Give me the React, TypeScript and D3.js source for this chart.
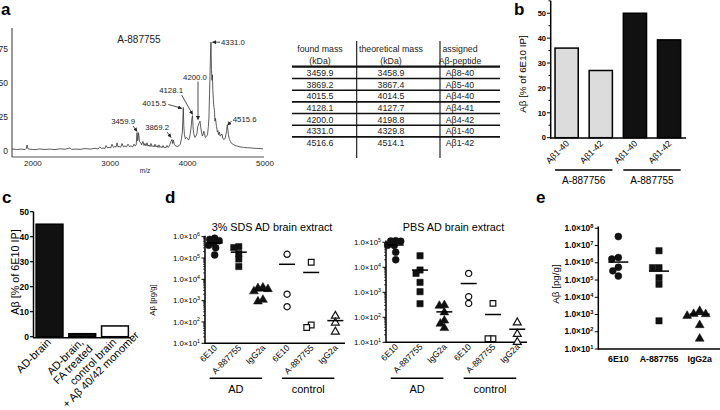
import * as d3 from 'd3'
import { useRef, useEffect } from 'react'

const W = 720, H = 410
const FONT = "'Liberation Sans', Arial, Helvetica, sans-serif"

// ---- a: MALDI spectrum [m/z, intensity] ----
const SPECTRUM: [number, number][] = [
  [1730, 1.5], [1790, 1.1], [1850, 1.4], [1900, 1.0], [1915, 2.0], [1924, 4.4], [1937, 1.5], [1990, 1.2],
  [2027, 1.0], [2090, 1.5], [2157, 1.1], [2220, 1.4], [2286, 1.0], [2350, 1.6], [2415, 1.3], [2480, 2.2],
  [2500, 1.2], [2544, 1.4], [2610, 1.2], [2674, 1.8], [2740, 1.4], [2803, 2.0], [2840, 1.5], [2867, 3.0],
  [2890, 1.8], [2906, 2.2], [2930, 1.8], [2945, 4.0], [2965, 2.2], [2984, 2.8], [3005, 2.2], [3023, 5.0],
  [3042, 2.6], [3061, 3.4], [3075, 2.8], [3087, 6.0], [3100, 3.0], [3113, 3.4], [3135, 2.8], [3152, 5.5],
  [3170, 3.0], [3190, 3.8], [3210, 3.0], [3229, 5.0], [3248, 3.2], [3268, 3.8], [3290, 3.0], [3307, 5.0],
  [3322, 3.6], [3335, 4.5], [3346, 13.5], [3353, 7.5], [3359, 9], [3365, 13.5], [3378, 7], [3391, 6.5],
  [3405, 4.5], [3423, 7], [3436, 4], [3449, 5.5], [3462, 3.8], [3475, 6], [3488, 3.5], [3501, 4.5],
  [3514, 3.2], [3527, 5.5], [3540, 3.2], [3553, 4], [3566, 3], [3578, 5], [3591, 3], [3604, 4],
  [3617, 2.6], [3630, 4.5], [3643, 2.6], [3656, 3.4], [3669, 2.4], [3682, 4], [3695, 2.4], [3707, 3],
  [3720, 2.4], [3733, 4], [3746, 2.6], [3759, 3.2], [3772, 5], [3785, 7], [3798, 8.5], [3806, 5.5],
  [3816, 8], [3830, 4.5], [3850, 3.6], [3875, 3.4], [3890, 4], [3905, 5], [3920, 9], [3932, 14],
  [3944, 32], [3951, 18], [3959, 12], [3970, 9], [3985, 10], [3998, 9.5], [4010, 8], [4022, 9],
  [4035, 13], [4044, 17], [4055, 24], [4063, 26], [4072, 16], [4082, 12], [4095, 10], [4108, 11],
  [4121, 13], [4131, 18], [4140, 19], [4150, 21], [4160, 22], [4170, 17], [4179, 14], [4190, 11],
  [4199, 12], [4210, 14.5], [4218, 13], [4228, 10], [4240, 10.5], [4257, 12], [4268, 18], [4276, 25],
  [4283, 42], [4289, 55], [4296, 72], [4302, 80], [4308, 60], [4315, 52], [4320, 56], [4326, 45],
  [4334, 36], [4340, 32], [4347, 30], [4353, 22], [4360, 24], [4373, 18], [4385, 14], [4392, 15],
  [4400, 12], [4411, 14], [4420, 11], [4431, 11.5], [4444, 12.5], [4456, 9], [4469, 8.5], [4482, 9],
  [4495, 12], [4503, 15], [4512, 19], [4520, 16], [4527, 12], [4540, 8.5], [4553, 7], [4570, 5.5],
  [4591, 4.8], [4615, 4], [4642, 3.6], [4680, 3], [4720, 2.7], [4770, 2.4], [4810, 2.3], [4860, 2.0],
  [4910, 1.9], [4974, 1.6],
]
const SPEC_X_TICKS = [2000, 3000, 4000, 5000]
const SPEC_Y_TICKS = [0, 25, 50, 75]
const PEAK_LABELS = ['3459.9', '3869.2', '4015.5', '4128.1', '4200.0', '4331.0', '4515.6']
const PEAK_AT: [number, number][] = [[3359, 13.5], [3798, 8.5], [3944, 32], [4063, 26], [4160, 22], [4302, 80], [4512, 19]]

// ---- a: table ----
const TABLE_HEAD = [['found mass', '(kDa)'], ['theoretical mass', '(kDa)'], ['assigned', 'Aβ-peptide']]
const FOUND = ['3459.9', '3869.2', '4015.5', '4128.1', '4200.0', '4331.0', '4516.6']
const THEORETICAL = ['3458.9', '3867.4', '4014.5', '4127.7', '4198.8', '4329.8', '4514.1']
const PEPTIDE = ['Aβ8-40', 'Aβ5-40', 'Aβ4-40', 'Aβ4-41', 'Aβ4-42', 'Aβ1-40', 'Aβ1-42']

// ---- b ----
const B_LABELS = ['Aβ1-40', 'Aβ1-42', 'Aβ1-40', 'Aβ1-42']
const B_VALUES = [36, 27, 50, 39.3]
const B_GROUPS = ['A-887756', 'A-887755']

// ---- c ----
const C_LABELS = [['AD-brain'], ['AD-brain,', 'FA treated'], ['control brain', '+ Aβ 40/42 monomer']]
const C_VALUES = [45, 1.2, 4.3]

// ---- d ----
const D_CATS = ['6E10', 'A-887755', 'IgG2a', '6E10', 'A-887755', 'IgG2a']
const D_GROUPS = ['AD', 'control']
const D_SDS = [
  [8.5e5, 7.5e5, 6.5e5, 5e5, 4e5, 3e5, 1.4e5],
  [3.4e5, 3.1e5, 1.6e5, 9e4, 4e4],
  [4.5e3, 4.2e3, 3.8e3, 3.0e3, 1.2e3, 1.0e3],
  [1.5e5, 2.0e3, 5.2e2],
  [6.3e4, 7.2e1, 5.5e1],
  [2.1e2, 1.0e2, 3.8e1],
]
const D_PBS = [
  [1.15e5, 1.12e5, 1.1e5, 7.6e4, 7.4e4, 4e4, 2e4],
  [2.9e4, 7.8e3, 5.7e3, 2.5e3, 1.06e3, 3.5e2],
  [3.3e2, 3.1e2, 1.7e2, 8e1, 6e1, 4e1],
  [5.7e3, 6.7e2, 3.6e2],
  [3.6e2, 1.4e1, 1.4e1],
  [6.6e1, 2.3e1, 1.1e1],
]

// ---- e ----
const E_CATS = ['6E10', 'A-887755', 'IgG2a']
const E_VALUES = [
  [3.3e7, 2.0e6, 1.65e6, 5.5e5, 3.4e5, 1.7e5],
  [5.0e6, 5.2e5, 5.2e5, 1.37e5, 5.7e4, 4.3e2],
  [1.8e3, 1.2e3, 1.17e3, 9.3e2, 2.7e2, 4.4e1],
]

type Sel = d3.Selection<any, unknown, null, undefined>

function letter(svg: Sel, t: string, x: number, y: number) {
  svg.append('text').attr('x', x).attr('y', y).attr('font-size', 17).attr('font-weight', 'bold').text(t)
}

function logLabel(sel: Sel, v: number) {
  sel.append('tspan').text('1.0×10')
  sel.append('tspan').attr('dy', -3.2).attr('font-size', '0.68em').text(Math.round(Math.log10(v)))
}

// simple beeswarm: spread overlapping markers sideways
function swarm(ys: number[], d: number) {
  const placed: [number, number][] = []
  return ys.map((yy) => {
    let best = 0
    for (let k = 0; k < 80; k++) {
      const off = (k % 2 ? -1 : 1) * Math.ceil(k / 2) * 0.5
      if (placed.every(([px, py]) => Math.hypot(px - off, py - yy) >= d)) { best = off; break }
    }
    placed.push([best, yy])
    return best
  })
}

const SHAPES = [d3.symbolCircle, d3.symbolSquare, d3.symbolTriangle]
const SIZES = [38, 40, 34]

function drawA(svg: Sel) {
  const x = d3.scaleLinear().domain([1730, 5000]).range([12, 265])
  const y = d3.scaleLinear().domain([0, 90]).range([151, 28.6])
  const g = svg.append('g').attr('fill', '#222')

  g.append('line').attr('x1', 12).attr('x2', 12).attr('y1', 28).attr('y2', 157).attr('stroke', '#555').attr('stroke-width', 1.2)
  g.append('line').attr('x1', 12).attr('x2', 264).attr('y1', 157).attr('y2', 157).attr('stroke', '#555').attr('stroke-width', 1.2)
  SPEC_X_TICKS.forEach((t) => g.append('text').attr('x', x(t)).attr('y', 166).attr('text-anchor', 'middle').attr('font-size', 8).text(t))
  SPEC_Y_TICKS.forEach((t) => g.append('text').attr('x', 8).attr('y', y(t) + 3).attr('text-anchor', 'end').attr('font-size', 8.5).text(t))
  g.append('text').attr('x', 145).attr('y', 173).attr('text-anchor', 'middle').attr('font-size', 6.5).text('m/z')

  const line = d3.line<[number, number]>().x((d) => x(d[0])).y((d) => y(d[1]))
  g.append('path').datum(SPECTRUM).attr('fill', 'none').attr('stroke', '#333').attr('stroke-width', 0.8).attr('d', line)

  g.append('text').attr('x', 139).attr('y', 43).attr('text-anchor', 'middle').attr('font-size', 10).text('A-887755')

  const defs = svg.append('defs')
  defs.append('marker').attr('id', 'ah').attr('viewBox', '0 0 10 10').attr('refX', 9).attr('refY', 5)
    .attr('markerWidth', 4).attr('markerHeight', 4).attr('markerUnits', 'userSpaceOnUse').attr('orient', 'auto')
    .append('path').attr('d', 'M0,0L10,5L0,10z').attr('fill', '#222')

  const layout = [
    { lx: -3, ly: -8.6, a: 'end', t: [-5, -6.6], h: [-1, -1.2] },
    { lx: -3, ly: -9.4, a: 'end', t: [-5, -7.4], h: [-1, -2] },
    { lx: -17.3, ly: -1, a: 'end', t: [-15, -3], h: [-1.6, 0.8] },
    { lx: -9.5, ly: -23, a: 'end', t: [-10.8, -20.6], h: [0, -1.3] },
    { lx: -5, ly: -41.5, a: 'middle', t: [-2, -39.5], h: [-2, -1.5] },
    { lx: 10, ly: 2.8, a: 'start', t: [9, 0], h: [1.5, 0] },
    { lx: 5.5, ly: -3, a: 'start', t: [4.2, -4], h: [0.3, 0] },
  ]
  PEAK_LABELS.forEach((lab, i) => {
    const px = x(PEAK_AT[i][0]), py = y(PEAK_AT[i][1])
    const L = layout[i]
    g.append('text').attr('x', px + L.lx).attr('y', py + L.ly).attr('text-anchor', L.a).attr('font-size', 7.8).text(lab)
    g.append('line').attr('x1', px + L.t[0]).attr('y1', py + L.t[1]).attr('x2', px + L.h[0]).attr('y2', py + L.h[1])
      .attr('stroke', '#222').attr('stroke-width', 0.8).attr('marker-end', 'url(#ah)')
  })

  // table
  const cols = [320, 391, 460]
  const rowY = (i: number) => 72.7 + i * 11.67
  const t = svg.append('g').attr('fill', '#222').attr('font-size', 8.8).attr('text-anchor', 'middle')
  TABLE_HEAD.forEach((h, c) => {
    t.append('text').attr('x', cols[c]).attr('y', 52).text(h[0])
    t.append('text').attr('x', cols[c]).attr('y', 63.5).text(h[1])
  })
  ;[FOUND, THEORETICAL, PEPTIDE].forEach((col, c) => col.forEach((v, i) => {
    t.append('text').attr('x', cols[c]).attr('y', rowY(i) + 3.2).text(v)
  }))
  t.append('line').attr('x1', 292).attr('x2', 500).attr('y1', 66.7).attr('y2', 66.7).attr('stroke', '#111').attr('stroke-width', 2.2)
  d3.range(6).forEach((i) => {
    const yy = rowY(i) + 5.83
    t.append('line').attr('x1', 292).attr('x2', 500).attr('y1', yy).attr('y2', yy).attr('stroke', '#111').attr('stroke-width', 1.6)
  })
  ;[356.7, 440].forEach((xx) => t.append('line').attr('x1', xx).attr('x2', xx).attr('y1', 41).attr('y2', 158).attr('stroke', '#111').attr('stroke-width', 1.1))
}

function drawB(svg: Sel) {
  const x = d3.scaleBand<number>().domain(d3.range(4)).range([550, 685.7]).paddingInner(0.32).paddingOuter(0.147)
  const y = d3.scaleLinear().domain([0, 55]).range([137.7, 0.8])
  const g = svg.append('g')
  B_VALUES.forEach((v, i) => {
    g.append('rect').attr('x', x(i)!).attr('width', x.bandwidth()).attr('y', y(v)).attr('height', y(0) - y(v))
      .attr('fill', i < 2 ? '#dcdcdc' : '#111').attr('stroke', '#000').attr('stroke-width', 1.5)
  })
  g.append('line').attr('x1', 550.7).attr('x2', 550.7).attr('y1', 0.8).attr('y2', 138.5).attr('stroke', '#000').attr('stroke-width', 1.5)
  g.append('line').attr('x1', 550).attr('x2', 686).attr('y1', 138).attr('y2', 138).attr('stroke', '#000').attr('stroke-width', 1.5)
  d3.range(0, 56, 5).forEach((t) => {
    const major = t % 10 === 0
    g.append('line').attr('x1', major ? 547 : 548.5).attr('x2', 550.7).attr('y1', y(t)).attr('y2', y(t)).attr('stroke', '#000').attr('stroke-width', 1)
    if (major) g.append('text').attr('x', 546).attr('y', y(t) + 2.7).attr('text-anchor', 'end').attr('font-size', 7.5).attr('font-weight', 'bold').text(t)
  })
  B_LABELS.forEach((l, i) => {
    const cx = x(i)! + x.bandwidth() / 2 + 3
    g.append('text').attr('transform', `translate(${cx},144) rotate(-45)`).attr('text-anchor', 'end').attr('font-size', 8.8).text(l)
  })
  B_GROUPS.forEach((gr, k) => {
    const x0 = x(k * 2)!, x1 = x(k * 2 + 1)! + x.bandwidth()
    g.append('line').attr('x1', x0).attr('x2', x1).attr('y1', 170).attr('y2', 170).attr('stroke', '#000').attr('stroke-width', 1.5)
    g.append('text').attr('x', (x0 + x1) / 2).attr('y', 183.5).attr('text-anchor', 'middle').attr('font-size', 10).text(gr)
  })
  g.append('text').attr('transform', 'translate(526,74) rotate(-90)').attr('text-anchor', 'middle').attr('font-size', 9.8).text('Aβ [% of 6E10 IP]')
}

function drawC(svg: Sel) {
  const x = d3.scaleBand<number>().domain(d3.range(3)).range([33.5, 131]).paddingInner(0.18).paddingOuter(0.08)
  const y = d3.scaleLinear().domain([0, 50]).range([336.7, 211.7])
  const g = svg.append('g')
  C_VALUES.forEach((v, i) => {
    g.append('rect').attr('x', x(i)!).attr('width', x.bandwidth()).attr('y', y(v)).attr('height', y(0) - y(v))
      .attr('fill', i < 2 ? '#111' : '#fff').attr('stroke', '#000').attr('stroke-width', 1.5)
  })
  g.append('line').attr('x1', 33.5).attr('x2', 33.5).attr('y1', 211.7).attr('y2', 338).attr('stroke', '#000').attr('stroke-width', 1.5)
  g.append('line').attr('x1', 33).attr('x2', 131).attr('y1', 337.7).attr('y2', 337.7).attr('stroke', '#000').attr('stroke-width', 1.5)
  d3.range(0, 51, 10).forEach((t) => {
    g.append('line').attr('x1', 30).attr('x2', 33.5).attr('y1', y(t)).attr('y2', y(t)).attr('stroke', '#000').attr('stroke-width', 1.2)
    g.append('text').attr('x', 29).attr('y', y(t) + 3).attr('text-anchor', 'end').attr('font-size', 8.5).attr('font-weight', 'bold').text(t)
  })
  // multi-line rotated labels, lines centred on each other, top line ending at the bar
  C_LABELS.forEach((lines, i) => {
    const cx = x(i)! + x.bandwidth() / 2 + 2
    const tx = g.append('text').attr('transform', `translate(${cx},343) rotate(-45)`).attr('text-anchor', 'middle').attr('font-size', 11)
    const spans = lines.map((l, k) => tx.append('tspan').attr('x', 0).attr('dy', k ? '1.0em' : 0).text(l))
    const len0 = (spans[0].node() as SVGTextContentElement).getComputedTextLength()
    spans.forEach((s) => s.attr('x', -len0 / 2))
  })
  g.append('text').attr('transform', 'translate(19,272) rotate(-90)').attr('text-anchor', 'middle').attr('font-size', 10.8).text('Aβ [% of 6E10 IP]')
}

function markers(g: Sel, groups: number[][], x: (i: number) => number, y: d3.ScaleLogarithmic<number, number>, stat: (v: number[]) => number, half: number, gap: number) {
  groups.forEach((vals, i) => {
    const shape = i % 3
    const open = i >= 3
    const ys = vals.map((v) => y(v))
    const offs = swarm(ys, gap)
    const sym = d3.symbol().type(SHAPES[shape]).size(open ? SIZES[shape] * 0.8 : SIZES[shape])
    vals.forEach((v, k) => {
      g.append('path').attr('d', sym()!).attr('transform', `translate(${x(i) + offs[k]},${ys[k] + (shape === 2 ? 0.8 : 0)})`)
        .attr('fill', open ? '#fff' : '#111').attr('stroke', '#111').attr('stroke-width', open ? 1.2 : 0.5)
    })
    const m = y(stat(vals))
    g.append('line').attr('x1', x(i) - half).attr('x2', x(i) + half).attr('y1', m).attr('y2', m).attr('stroke', '#000').attr('stroke-width', 1.5)
  })
}

function logAxis(g: Sel, y: d3.ScaleLogarithmic<number, number>, ax: number, top: number, maxExp: number, fs: number, bold: boolean, minor: boolean) {
  const [b] = y.range()
  g.append('line').attr('x1', ax).attr('x2', ax).attr('y1', top).attr('y2', b + 0.7).attr('stroke', '#000').attr('stroke-width', 1.5)
  d3.range(1, maxExp + 1).forEach((e) => {
    const v = Math.pow(10, e)
    g.append('line').attr('x1', ax - 3.5).attr('x2', ax).attr('y1', y(v)).attr('y2', y(v)).attr('stroke', '#000').attr('stroke-width', 1)
    const t = g.append('text').attr('x', ax - 5).attr('y', y(v) + 2.7).attr('text-anchor', 'end').attr('font-size', fs)
    if (bold) t.attr('font-weight', 'bold')
    logLabel(t, v)
    if (minor && e < maxExp) d3.range(2, 10).forEach((m) => {
      g.append('line').attr('x1', ax - 2).attr('x2', ax).attr('y1', y(m * v)).attr('y2', y(m * v)).attr('stroke', '#000').attr('stroke-width', 0.7)
    })
  })
}

function drawDPanel(svg: Sel, title: string, data: number[][], r0: number, r1: number, yr: [number, number], maxExp: number, top: number) {
  const x = d3.scalePoint<number>().domain(d3.range(6)).range([r0, r1]).padding(0.4)
  const y = d3.scaleLog().domain([10, Math.pow(10, maxExp)]).range(yr)
  const g = svg.append('g')
  g.append('text').attr('x', (r0 + r1) / 2 - 3).attr('y', 231).attr('text-anchor', 'middle').attr('font-size', 10.8).text(title)
  logAxis(g, y, r0, top, maxExp, 7.8, false, true)
  g.append('line').attr('x1', r0).attr('x2', r1).attr('y1', yr[0]).attr('y2', yr[0]).attr('stroke', '#000').attr('stroke-width', 1.5)
  markers(g, data, (i) => x(i)!, y, (v) => d3.mean(v)!, 8, 5)
  D_CATS.forEach((c, i) => {
    g.append('text').attr('transform', `translate(${x(i)! + 3},${yr[0] + 5}) rotate(-45)`).attr('text-anchor', 'end').attr('font-size', 8.6).text(c)
  })
  D_GROUPS.forEach((gr, k) => {
    const x0 = x(k * 3)! - 5, x1 = x(k * 3 + 2)! - 1
    g.append('line').attr('x1', x0).attr('x2', x1).attr('y1', 378.3).attr('y2', 378.3).attr('stroke', '#000').attr('stroke-width', 1.5)
    g.append('text').attr('x', (x0 + x1) / 2).attr('y', 392.5).attr('text-anchor', 'middle').attr('font-size', 11).text(gr)
  })
}

function drawD(svg: Sel) {
  drawDPanel(svg, '3% SDS AD brain extract', D_SDS, 205, 345, [343.3, 236.7], 6, 235.7)
  drawDPanel(svg, 'PBS AD brain extract', D_PBS, 386, 527, [342.3, 242.3], 5, 240.5)
  svg.append('text').attr('transform', 'translate(155,300) rotate(-90)').attr('text-anchor', 'middle').attr('font-size', 7.8).text('Aβ [pg/g]')
}

function drawE(svg: Sel) {
  const x = d3.scalePoint<number>().domain(d3.range(3)).range([598, 720]).padding(0.5)
  const y = d3.scaleLog().domain([10, 1e8]).range([349, 228.3])
  const g = svg.append('g')
  logAxis(g, y, 598.3, 226.5, 8, 8.3, true, false)
  g.append('line').attr('x1', 598).attr('x2', 720).attr('y1', 349).attr('y2', 349).attr('stroke', '#000').attr('stroke-width', 1.5)
  markers(g, E_VALUES, (i) => x(i)!, y, (v) => d3.median(v)!, 10, 6.5)
  E_CATS.forEach((c, i) => {
    g.append('text').attr('x', x(i)!).attr('y', 362).attr('text-anchor', 'middle').attr('font-size', 8.8).attr('font-weight', 'bold').text(c)
  })
  g.append('text').attr('transform', 'translate(559,284) rotate(-90)').attr('text-anchor', 'middle').attr('font-size', 9.8).text('Aβ [pg/g]')
}

export default function App() {
  const ref = useRef<SVGSVGElement>(null)
  useEffect(() => {
    const svg = d3.select(ref.current) as unknown as Sel
    svg.selectAll('*').remove()
    svg.append('rect').attr('width', W).attr('height', H).attr('fill', '#fff')
    letter(svg, 'a', 1, 15)
    letter(svg, 'b', 514, 15)
    letter(svg, 'c', 2, 203)
    letter(svg, 'd', 165, 203)
    letter(svg, 'e', 536, 203)
    drawA(svg)
    drawB(svg)
    drawC(svg)
    drawD(svg)
    drawE(svg)
  }, [])
  return (
    <svg ref={ref} width={W} height={H} viewBox={`0 0 ${W} ${H}`} fontFamily={FONT}
      style={{ position: 'absolute', left: 0, top: 0, display: 'block' }} />
  )
}
